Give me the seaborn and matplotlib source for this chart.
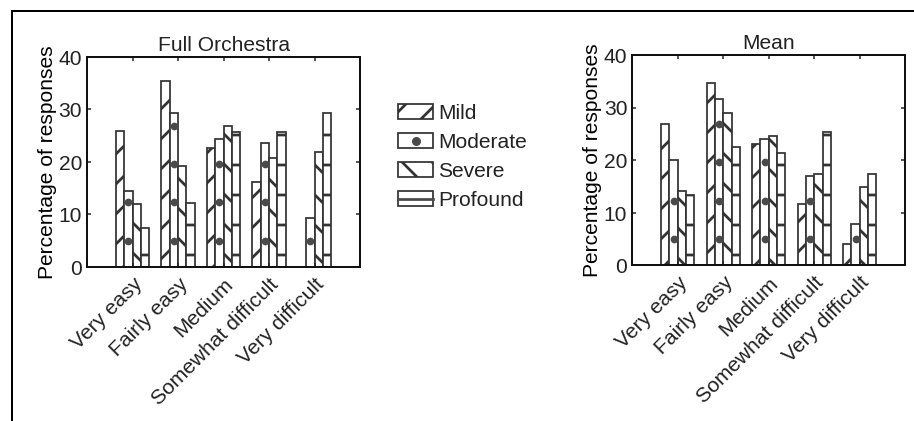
import numpy as np
import pandas as pd
import matplotlib
matplotlib.use("Agg")
import matplotlib.pyplot as plt
import matplotlib.patches as mpatches
from matplotlib.lines import Line2D
from matplotlib.legend_handler import HandlerTuple
import seaborn as sns

# ---------------- data ----------------
categories = ["Very easy", "Fairly easy", "Medium", "Somewhat difficult", "Very difficult"]
severities = ["Mild", "Moderate", "Severe", "Profound"]

orch_mild = [25.9, 35.4, 22.6, 16.1, 0.0]
orch_moderate = [14.5, 29.3, 24.3, 23.5, 9.3]
orch_severe = [11.9, 19.2, 26.9, 20.8, 21.8]
orch_profound = [7.4, 12.1, 25.7, 25.7, 29.3]

mean_mild = [26.9, 34.7, 23.1, 11.6, 4.0]
mean_moderate = [20.0, 31.6, 24.0, 17.0, 7.8]
mean_severe = [14.2, 29.0, 24.6, 17.3, 14.9]
mean_profound = [13.4, 22.6, 21.3, 25.3, 17.3]

titles = ["Full Orchestra", "Mean"]
y_label = "Percentage of responses"
y_ticks = [0, 10, 20, 30, 40]


def long_frame(mild, moderate, severe, profound):
    rows = []
    for sev, vals in zip(severities, [mild, moderate, severe, profound]):
        for cat, v in zip(categories, vals):
            rows.append({"category": cat, "severity": sev, "value": v})
    return pd.DataFrame(rows)


frames = [
    long_frame(orch_mild, orch_moderate, orch_severe, orch_profound),
    long_frame(mean_mild, mean_moderate, mean_severe, mean_profound),
]

# ---------------- style ----------------
DPI = 180
FS = 8.4
EDGE = "#333333"
HATCH = "#4a4a4a"
plt.rcParams["font.family"] = ["Liberation Sans", "DejaVu Sans"]
plt.rcParams["hatch.linewidth"] = 1.1
plt.rcParams["text.color"] = "#222222"

fig = plt.figure(figsize=(914.3 / DPI, 421.3 / DPI), dpi=DPI)
fig.patch.set_facecolor("white")

axes_pos = [
    [87 / 914, 154 / 421, 273 / 914, 210 / 421],
    [632 / 914, 155.5 / 421, 273 / 914, 210.2 / 421],
]
hatches = ["//", None, "\\\\", "-"]

for pos, df, title in zip(axes_pos, frames, titles):
    ax = fig.add_axes(pos)
    sns.barplot(
        data=df, x="category", y="value", hue="severity",
        order=categories, hue_order=severities,
        palette=["white"] * 4, saturation=1, width=0.73,
        edgecolor=EDGE, linewidth=0.7, errorbar=None,
        legend=False, ax=ax,
    )
    for cont, h in zip(ax.containers, hatches):
        for bar in cont:
            if h:
                bar.set_hatch(h)
    # dot pattern for the "Moderate" bars
    step, base = 7.3, 5.0
    dx, dy = [], []
    for bar in ax.containers[1]:
        xc = bar.get_x() + bar.get_width() / 2
        hgt = bar.get_height()
        yv = base
        while yv + 0.4 < hgt:
            dx.append(xc)
            dy.append(yv)
            yv += step
    ax.scatter(dx, dy, s=9.5, color=HATCH, zorder=5, linewidths=0)

    ax.set_xlim(-1, 5)
    ax.set_ylim(0, 40)
    ax.set_yticks(y_ticks)
    ax.set_yticklabels([str(t) for t in y_ticks])
    ax.set_xticks(range(len(categories)))
    ax.set_xticklabels(categories, rotation=45, ha="right", rotation_mode="anchor")
    ax.set_xlabel("")
    ax.set_ylabel(y_label, fontsize=FS, labelpad=0.5)
    ax.set_title(title, fontsize=FS, pad=2.5)
    ax.tick_params(direction="in", top=True, right=True, length=1.6, width=0.6,
                   labelsize=FS, pad=2.0, colors="#222222")
    ax.tick_params(axis="x", pad=3.0)
    for sp in ax.spines.values():
        sp.set_linewidth(0.8)
        sp.set_color("#111111")
        sp.set_visible(True)

# ---------------- legend ----------------
handles = [
    mpatches.Patch(facecolor="white", edgecolor=EDGE, hatch="//", linewidth=0.7),
    (mpatches.Patch(facecolor="white", edgecolor=EDGE, linewidth=0.7),
     Line2D([], [], marker="o", linestyle="none", color=HATCH, markersize=2.6)),
    mpatches.Patch(facecolor="white", edgecolor=EDGE, hatch="\\\\", linewidth=0.7),
    (mpatches.Patch(facecolor="white", edgecolor=EDGE, linewidth=0.7),
     Line2D([], [], linestyle="-", color=HATCH, linewidth=1.1)),
]
fig.legend(handles, severities, loc="upper left",
           bbox_to_anchor=(398 / 914, 1 - 104 / 421),
           frameon=False, fontsize=FS, handlelength=1.67, handleheight=0.68,
           handletextpad=0.25, labelspacing=0.48, borderpad=0, borderaxespad=0,
           handler_map={tuple: HandlerTuple(ndivide=1, pad=0)})

# ---------------- outer frame lines ----------------
fig.add_artist(Line2D([11.5 / 914, 11.5 / 914], [0, 1 - 11.7 / 421],
                      transform=fig.transFigure, color="black", linewidth=0.8))
fig.add_artist(Line2D([11.5 / 914, 1], [1 - 11.7 / 421, 1 - 11.7 / 421],
                      transform=fig.transFigure, color="black", linewidth=0.8))

fig.savefig("out.png", dpi=DPI, facecolor="white")
